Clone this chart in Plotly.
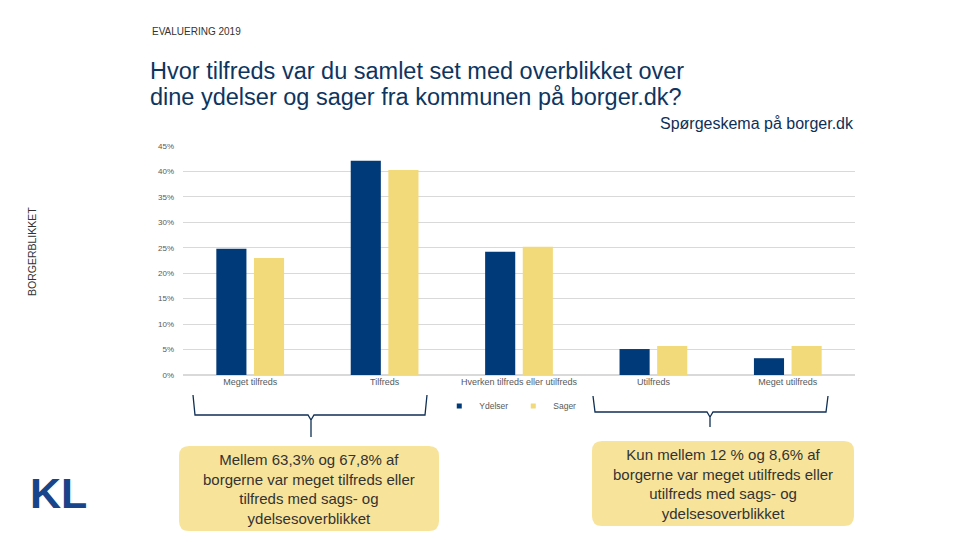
import plotly.graph_objects as go

# ── Data ─────────────────────────────────────────────────────────────────────
categories = ["Meget tilfreds", "Tilfreds", "Hverken tilfreds eller utilfreds",
              "Utilfreds", "Meget utilfreds"]
ydelser = [24.8, 42.1, 24.2, 5.1, 3.3]
sager = [23.0, 40.3, 25.2, 5.7, 5.7]
y_ticks = [0, 5, 10, 15, 20, 25, 30, 35, 40, 45]
y_tick_labels = [f"{v}%" for v in y_ticks]

NAVY = "#003a78"
YELLOW = "#f2d97a"
BOX = "#f8e39a"
FONT = "Liberation Sans, Arial, sans-serif"

# plot area in pixels (for placing decorations)
L, R, T, B = 183, 855, 146, 375


def px_x(p):
    return (p - L) / (R - L)


def px_y(p):
    return (B - p) / (B - T)


def rounded_box(x0, y0, x1, y1, r=10):
    a, b, c, d = px_x(x0), px_x(x1), px_y(y0), px_y(y1)
    rx, ry = r / (R - L), r / (B - T)
    return (f"M {a+rx},{c} L {b-rx},{c} Q {b},{c} {b},{c-ry} "
            f"L {b},{d+ry} Q {b},{d} {b-rx},{d} L {a+rx},{d} "
            f"Q {a},{d} {a},{d+ry} L {a},{c-ry} Q {a},{c} {a+rx},{c} Z")


def bracket(x0, x1, ytop, ybot, xm, ytip):
    return (f"M {px_x(x0)},{px_y(ytop)} L {px_x(x0+2)},{px_y(ybot)} "
            f"L {px_x(xm-3)},{px_y(ybot)} L {px_x(xm)},{px_y(ybot+5)} "
            f"L {px_x(xm+3)},{px_y(ybot)} L {px_x(x1-2)},{px_y(ybot)} "
            f"L {px_x(x1)},{px_y(ytop)} M {px_x(xm)},{px_y(ybot+5)} "
            f"L {px_x(xm)},{px_y(ytip)}")


fig = go.Figure()
fig.add_trace(go.Bar(name="Ydelser", x=categories, y=ydelser, marker_color=NAVY,
                     marker_line_width=0, showlegend=False))
fig.add_trace(go.Bar(name="Sager", x=categories, y=sager, marker_color=YELLOW,
                     marker_line_width=0, showlegend=False))
# small square legend keys
for name, col in [("Ydelser", NAVY), ("Sager", YELLOW)]:
    fig.add_trace(go.Scatter(x=[None], y=[None], mode="markers", name=name,
                             marker=dict(symbol="square", size=5, color=col)))

shapes = [
    dict(type="path", xref="paper", yref="paper",
         path=bracket(193, 427, 395, 415, 311, 437),
         line=dict(color="#0f2f55", width=1.3)),
    dict(type="path", xref="paper", yref="paper",
         path=bracket(593, 828, 396, 412, 710, 427),
         line=dict(color="#0f2f55", width=1.3)),
    dict(type="path", xref="paper", yref="paper", layer="below",
         path=rounded_box(179, 446, 439, 531), fillcolor=BOX, line_width=0),
    dict(type="path", xref="paper", yref="paper", layer="below",
         path=rounded_box(592, 441, 854, 526), fillcolor=BOX, line_width=0),
]

annotations = [
    dict(text="EVALUERING 2019", x=px_x(150), y=px_y(32), xanchor="left",
         yanchor="middle", font=dict(size=10, color="#333333")),
    dict(text="Hvor tilfreds var du samlet set med overblikket over",
         x=px_x(148), y=px_y(70.5), xanchor="left", yanchor="middle",
         font=dict(size=23.5, color="#0e3560")),
    dict(text="dine ydelser og sager fra kommunen på borger.dk?",
         x=px_x(148), y=px_y(96.5), xanchor="left", yanchor="middle",
         font=dict(size=23.5, color="#0e3560")),
    dict(text="Spørgeskema på borger.dk", x=px_x(856), y=px_y(123),
         xanchor="right", yanchor="middle", font=dict(size=16, color="#0f2f55")),
    dict(text="BORGERBLIKKET", x=px_x(32), y=px_y(252), textangle=-90,
         xanchor="center", yanchor="middle", font=dict(size=10.5, color="#333333")),
    dict(text="<b>KL</b>", x=px_x(58), y=px_y(493), xanchor="center",
         yanchor="middle", font=dict(size=43, color="#17448a")),
    dict(text="Mellem 63,3% og 67,8% af<br>borgerne var meget tilfreds eller<br>"
              "tilfreds med sags- og<br>ydelsesoverblikket",
         x=px_x(309), y=px_y(489), xanchor="center", yanchor="middle",
         font=dict(size=15, color="#333333")),
    dict(text="Kun mellem 12 % og 8,6% af<br>borgerne var meget utilfreds eller<br>"
              "utilfreds med sags- og<br>ydelsesoverblikket",
         x=px_x(723), y=px_y(484), xanchor="center", yanchor="middle",
         font=dict(size=15, color="#333333")),
]
for a in annotations:
    a.update(xref="paper", yref="paper", showarrow=False)

fig.update_layout(
    width=960, height=540,
    paper_bgcolor="white", plot_bgcolor="white",
    font=dict(family=FONT, color="#595959", size=8),
    margin=dict(l=L, r=960 - R, t=T, b=540 - B),
    barmode="group", bargap=0.44, bargroupgap=0.2,
    showlegend=True,
    legend=dict(orientation="h", x=0.487, y=px_y(406), xanchor="center",
                yanchor="middle", font=dict(size=8.5, color="#595959"),
                itemwidth=30, tracegroupgap=0),
    xaxis=dict(showgrid=False, showline=False, ticks="", tickfont=dict(size=9),
               ticklen=0),
    yaxis=dict(range=[0, 45], tickmode="array", tickvals=y_ticks,
               ticktext=y_tick_labels,
               gridcolor="#d9d9d9", gridwidth=1, zeroline=True,
               zerolinecolor="#d9d9d9", showline=False, ticks="",
               tickfont=dict(size=8), ticklabelstandoff=8),
    shapes=shapes,
    annotations=annotations,
)

fig.write_html("out.html", config={"displayModeBar": False},
               post_script="document.body.style.margin='0';")
